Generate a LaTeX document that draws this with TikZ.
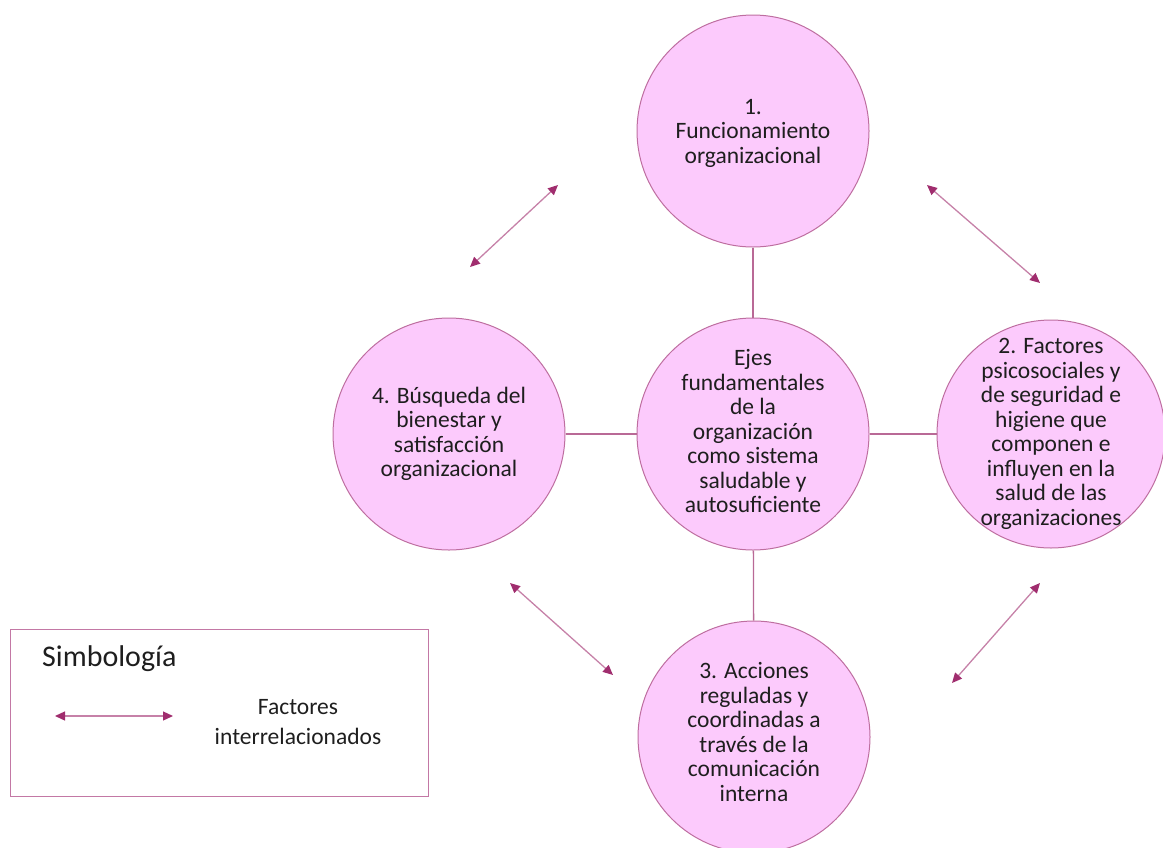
\documentclass[tikz,border=0pt]{standalone}
\usepackage{fontspec}
\setmainfont{Carlito}
\usetikzlibrary{arrows.meta}
\definecolor{bubblefill}{RGB}{252,202,252}
\definecolor{bubbleline}{RGB}{190,110,160}
\definecolor{linkcol}{RGB}{185,105,150}
\definecolor{arrowcol}{RGB}{160,45,110}
\definecolor{legendline}{RGB}{195,120,165}
\definecolor{inktext}{RGB}{30,30,30}
\begin{document}
\begin{tikzpicture}[x=1pt,y=-1pt,
  bubble/.style={circle, draw=bubbleline, fill=bubblefill, line width=1pt,
    minimum size=232pt, inner sep=0pt},
  caption/.style={align=center, text=inktext, inner sep=0pt,
    font=\fontsize{23.5}{24.5}\selectfont},
  link/.style={draw=linkcol, line width=1.3pt},
  relate/.style={draw=arrowcol!60, line width=1.3pt,
    {Triangle[length=10pt,width=9pt,color=arrowcol]}-{Triangle[length=10pt,width=9pt,color=arrowcol]}}
]
\useasboundingbox (0,0) rectangle (1163,847);
\clip (0,0) rectangle (1163,847);

% circles
\node[bubble] (core) at (753,434) {};
\node[bubble] (c1) at (753,131) {};
\node[bubble, minimum size=228pt] (c2) at (1051,434) {};
\node[bubble] (c3) at (754,737) {};
\node[bubble] (c4) at (449,434) {};

% texts inside the circles
\node[caption] (t0) at ([yshift=3pt]core) {Ejes\\fundamentales\\de la\\organización\\como sistema\\saludable y\\autosuficiente};
\node[caption] (t1) at ([yshift=-2pt]c1) {1.\\Funcionamiento\\organizacional};
\node[caption] (t2) at (c2) {2. Factores\\psicosociales y\\de seguridad e\\higiene que\\componen e\\influyen en la\\salud de las\\organizaciones};
\node[caption] (t3) at ([yshift=5pt]c3) {3. Acciones\\reguladas y\\coordinadas a\\través de la\\comunicación\\interna};
\node[caption] (t4) at (c4) {4. Búsqueda del\\bienestar y\\satisfacción\\organizacional};

% spokes
\draw[link] (c1) -- (core);
\draw[link] (core) -- (c3);
\draw[link] (c4) -- (core);
\draw[link] (core) -- (c2);

% interrelation arrows
\coordinate (a1s) at (470,267); \coordinate (a1e) at (558,185);
\coordinate (a2s) at (927,185); \coordinate (a2e) at (1040,283);
\coordinate (a3s) at (510,583); \coordinate (a3e) at (613,675);
\coordinate (a4s) at (952,683); \coordinate (a4e) at (1040,583);
\draw[relate] (a1s) -- (a1e);
\draw[relate] (a2s) -- (a2e);
\draw[relate] (a3s) -- (a3e);
\draw[relate] (a4s) -- (a4e);

% legend
\node[draw=legendline, line width=1pt, minimum width=418pt, minimum height=167pt,
  inner sep=0pt, anchor=north west] (legend) at (10,629) {};
\node[anchor=west, text=inktext, inner sep=0pt, font=\fontsize{30}{36}\selectfont] (legtitle) at (42,659) {Simbología};
\coordinate (ls) at (55,716); \coordinate (le) at (173,716);
\draw[relate] (ls) -- (le);
\node[caption, font=\fontsize{23.5}{30}\selectfont] (legtext) at (298,722) {Factores\\interrelacionados};
\end{tikzpicture}
\end{document}
